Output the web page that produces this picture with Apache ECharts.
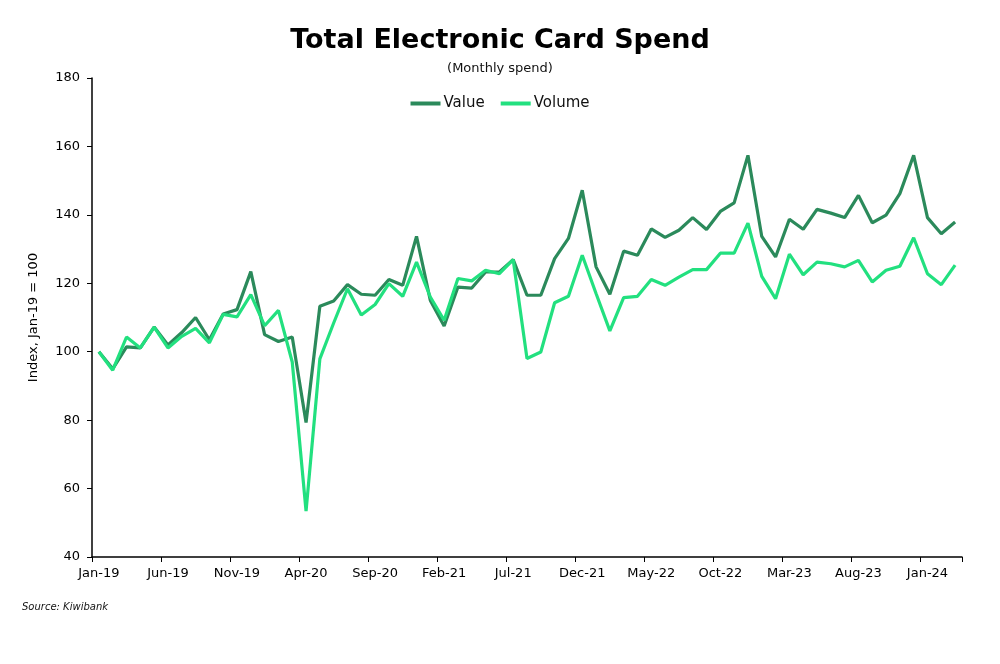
<!DOCTYPE html>
<html>
<head>
<meta charset="utf-8">
<script src="https://cdn.jsdelivr.net/npm/echarts@6/dist/echarts.min.js"></script>
<style>
html,body{margin:0;padding:0;background:#fff;}
#chart{width:1000px;height:664px;}
</style>
</head>
<body>
<div id="chart"></div>
<script>
const categories = [
"Jan-19","Feb-19","Mar-19","Apr-19","May-19","Jun-19","Jul-19","Aug-19","Sep-19","Oct-19","Nov-19","Dec-19",
"Jan-20","Feb-20","Mar-20","Apr-20","May-20","Jun-20","Jul-20","Aug-20","Sep-20","Oct-20","Nov-20","Dec-20",
"Jan-21","Feb-21","Mar-21","Apr-21","May-21","Jun-21","Jul-21","Aug-21","Sep-21","Oct-21","Nov-21","Dec-21",
"Jan-22","Feb-22","Mar-22","Apr-22","May-22","Jun-22","Jul-22","Aug-22","Sep-22","Oct-22","Nov-22","Dec-22",
"Jan-23","Feb-23","Mar-23","Apr-23","May-23","Jun-23","Jul-23","Aug-23","Sep-23","Oct-23","Nov-23","Dec-23",
"Jan-24","Feb-24","Mar-24"
];
const valueSeries = [
100, 95, 101.4, 101.1, 107.2, 102, 105.6, 110, 103.5, 111, 112.3, 123.4,
105, 103, 104.3, 79.3, 113.3, 114.8, 119.6, 116.8, 116.5, 121.1, 119.4, 133.7,
115, 107.5, 118.9, 118.6, 123.3, 123.3, 126.9, 116.5, 116.5, 127.2, 133.1, 147.2,
124.8, 116.8, 129.4, 128.2, 135.9, 133.4, 135.5, 139.2, 135.7, 141, 143.5, 157.4,
133.7, 127.7, 138.7, 135.8, 141.6, 140.5, 139.2, 145.7, 137.7, 139.9, 146.2, 157.4,
139.2, 134.5, 137.9
];
const volumeSeries = [
100, 94.6, 104.3, 101.1, 107.2, 101.1, 104.5, 106.8, 102.6, 110.9, 110.2, 116.7,
107.6, 112.1, 97, 53.4, 97.9, 108.4, 118.4, 110.7, 113.8, 119.9, 116.2, 126.2,
116, 109.2, 121.4, 120.7, 123.8, 122.8, 126.9, 98, 99.9, 114.3, 116.2, 128.2,
117, 106.1, 115.8, 116.2, 121.1, 119.4, 121.8, 124, 124, 128.8, 128.8, 137.6,
122, 115.5, 128.5, 122.5, 126.2, 125.7, 124.8, 126.7, 120.4, 123.8, 125, 133.3,
122.8, 119.6, 125.3
];
const yTicks = { min: 40, max: 180, interval: 20 };

const FONT = "DejaVu Sans";
const chart = echarts.init(document.getElementById('chart'), null, {renderer: 'canvas'});
chart.setOption({
  animation: false,
  backgroundColor: '#ffffff',
  title: [
    { text: 'Total Electronic Card Spend', left: 'center', top: 22,
      textStyle: { fontFamily: FONT, fontSize: 27, fontWeight: 'bold', color: '#000' } },
    { text: '(Monthly spend)', left: 'center', top: 57,
      textStyle: { fontFamily: FONT, fontSize: 13, fontWeight: 'normal', color: '#111' } },
    { text: 'Source: Kiwibank', left: 17, top: 597,
      textStyle: { fontFamily: FONT, fontSize: 10, fontStyle: 'italic', fontWeight: 'normal', color: '#111' } }
  ],
  legend: {
    top: 91, left: 'center',
    itemWidth: 30, itemHeight: 4, itemGap: 16,
    icon: 'rect',
    textStyle: { fontFamily: FONT, fontSize: 15, color: '#111', padding: [0,0,0,-2] },
    data: ['Value', 'Volume']
  },
  grid: { left: 92, right: 38, top: 78, bottom: 107, containLabel: false },
  xAxis: {
    type: 'category',
    data: categories,
    boundaryGap: true,
    axisLine: { lineStyle: { color: '#000', width: 1.5 } },
    axisTick: { show: true, interval: function (i) { return i % 5 === 0 && i < categories.length; }, length: 5, lineStyle: { color: '#000' } },
    axisLabel: { interval: 4, color: '#000', fontFamily: FONT, fontSize: 13, margin: 10 },
    splitLine: { show: false }
  },
  yAxis: {
    type: 'value',
    min: yTicks.min, max: yTicks.max, interval: yTicks.interval,
    name: 'Index, Jan-19 = 100',
    nameLocation: 'middle',
    nameGap: 52,
    nameTextStyle: { fontFamily: FONT, fontSize: 13, color: '#000' },
    axisLine: { show: true, lineStyle: { color: '#000', width: 1.5 } },
    axisTick: { show: true, length: 5, lineStyle: { color: '#000' } },
    axisLabel: { color: '#000', fontFamily: FONT, fontSize: 13, margin: 12 },
    splitLine: { show: false }
  },
  series: [
    { name: 'Value', type: 'line', data: valueSeries, showSymbol: false, symbol: 'none',
      lineStyle: { color: '#2b8a5b', width: 3.2 }, itemStyle: { color: '#2b8a5b' }, z: 2 },
    { name: 'Volume', type: 'line', data: volumeSeries, showSymbol: false, symbol: 'none',
      lineStyle: { color: '#22e07f', width: 3.2 }, itemStyle: { color: '#22e07f' }, z: 3 }
  ]
});
</script>
</body>
</html>
